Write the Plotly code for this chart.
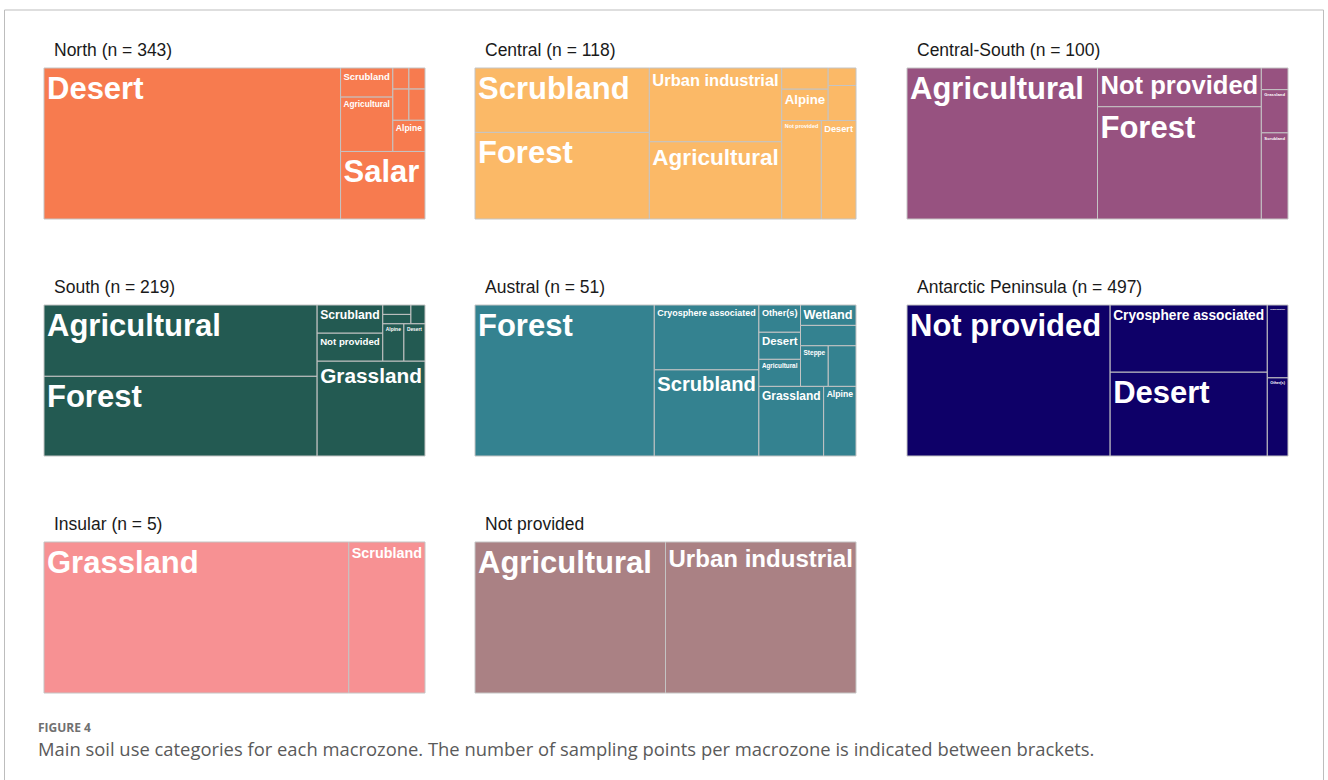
import plotly.graph_objects as go

# ---------------- data ----------------
north_labels = ["Desert", "Salar", "Agricultural", "Scrubland", "Alpine",
                "Not provided", "Urban industrial", "Grassland", "Other(s)"]
north_values = [267, 34, 17, 9, 6, 3, 3, 2, 2]

central_labels = ["Forest", "Scrubland", "Agricultural", "Urban industrial",
                  "Not provided", "Desert", "Alpine", "Grassland", "Wetland", "Other(s)"]
central_values = [31, 23, 21, 20, 8, 7, 3, 2, 2, 1]

csouth_labels = ["Agricultural", "Forest", "Not provided", "Scrubland",
                 "Grassland", "Urban industrial"]
csouth_values = [50, 32, 11, 4, 2, 1]

south_labels = ["Forest", "Agricultural", "Grassland", "Not provided", "Scrubland",
                "Alpine", "Desert", "Urban industrial", "Wetland", "Other(s)"]
south_values = [83, 74, 39, 7, 7, 3, 3, 1, 1, 1]

austral_labels = ["Forest", "Scrubland", "Cryosphere associated", "Grassland", "Alpine",
                  "Agricultural", "Desert", "Other(s)", "Steppe", "Not provided",
                  "Urban industrial", "Wetland"]
austral_values = [24, 8, 6, 4, 2, 1, 1, 1, 1, 1, 1, 1]

antarctic_labels = ["Not provided", "Desert", "Cryosphere associated", "Other(s)",
                    "Urban industrial"]
antarctic_values = [265, 114, 91, 14, 13]

insular_labels = ["Grassland", "Scrubland"]
insular_values = [4, 1]

notprov_labels = ["Agricultural", "Urban industrial"]
notprov_values = [1, 1]

panel_titles = ["North (n = 343)", "Central (n = 118)", "Central-South (n = 100)",
                "South (n = 219)", "Austral (n = 51)", "Antarctic Peninsula (n = 497)",
                "Insular (n = 5)", "Not provided"]

# ---------------- style ----------------
panel_colors = ["#F77B4F", "#FBB967", "#975280", "#235A52",
                "#348290", "#0E0068", "#F79193", "#AA8184"]
squarify_ratios = [1, 2, 2, 2, 2, 2, 2, 2]
hidden = [
    {"Not provided", "Urban industrial", "Grassland", "Other(s)"},
    {"Grassland", "Wetland", "Other(s)"},
    {"Urban industrial"},
    {"Urban industrial", "Wetland", "Other(s)"},
    {"Not provided", "Urban industrial"},
    set(), set(), set(),
]

W, H = 1328, 780


def px(x):
    return x / W


def py(y):
    return 1 - y / H


col_px = [(44, 425), (475, 856), (907, 1288)]
row_px = [(68, 219), (305, 456), (542, 693)]

panels = [
    (north_labels, north_values), (central_labels, central_values),
    (csouth_labels, csouth_values), (south_labels, south_values),
    (austral_labels, austral_values), (antarctic_labels, antarctic_values),
    (insular_labels, insular_values), (notprov_labels, notprov_values),
]

fig = go.Figure()
annotations = []
for i, (labels, values) in enumerate(panels):
    r, c = divmod(i, 3)
    x0, x1 = col_px[c]
    y0, y1 = row_px[r]
    tt = ["" if lab in hidden[i] else "%{label}" for lab in labels]
    fig.add_trace(go.Treemap(
        labels=labels,
        parents=[""] * len(labels),
        values=values,
        branchvalues="remainder",
        sort=True,
        domain=dict(x=[px(x0), px(x1)], y=[py(y1), py(y0)]),
        marker=dict(colors=[panel_colors[i]] * len(labels),
                    line=dict(color="#C4C4C4", width=1),
                    pad=dict(t=0, l=0, r=0, b=0)),
        tiling=dict(packing="squarify", squarifyratio=squarify_ratios[i],
                    flip="y", pad=0),
        texttemplate=tt,
        textposition="top left",
        textfont=dict(family="Liberation Sans, Arial, sans-serif", size=31,
                      color="white", weight="bold"),
        pathbar=dict(visible=False),
        hovertemplate="%{label}: %{value}<extra></extra>",
    ))
    annotations.append(dict(
        text=panel_titles[i], x=px(x0 + 8), y=py(y0 - 18),
        xref="paper", yref="paper", xanchor="left", yanchor="middle",
        showarrow=False,
        font=dict(family="Liberation Sans, Arial, sans-serif", size=17.5, color="#1a1a1a"),
    ))

annotations.append(dict(
    text="FIGURE 4", x=px(36), y=py(727.5), xref="paper", yref="paper",
    xanchor="left", yanchor="middle", showarrow=False,
    font=dict(family="Open Sans, sans-serif", size=12, color="#707070", weight="bold"),
))
annotations.append(dict(
    text="Main soil use categories for each macrozone. The number of sampling points per "
         "macrozone is indicated between brackets.",
    x=px(36), y=py(748.5), xref="paper", yref="paper",
    xanchor="left", yanchor="middle", showarrow=False,
    font=dict(family="Open Sans, sans-serif", size=18.4, color="#5a5a5a"),
))

fig.update_layout(
    width=W, height=H,
    margin=dict(l=0, r=0, t=0, b=0),
    paper_bgcolor="white",
    annotations=annotations,
    shapes=[dict(type="rect", xref="paper", yref="paper",
                 x0=px(4.5), x1=px(1323.5), y0=-0.1, y1=py(10),
                 line=dict(color="#BDBDBD", width=1), fillcolor="rgba(0,0,0,0)")],
)

fig.write_html("out.html", config={"displayModeBar": False},
               post_script="document.body.style.margin='0px';")
